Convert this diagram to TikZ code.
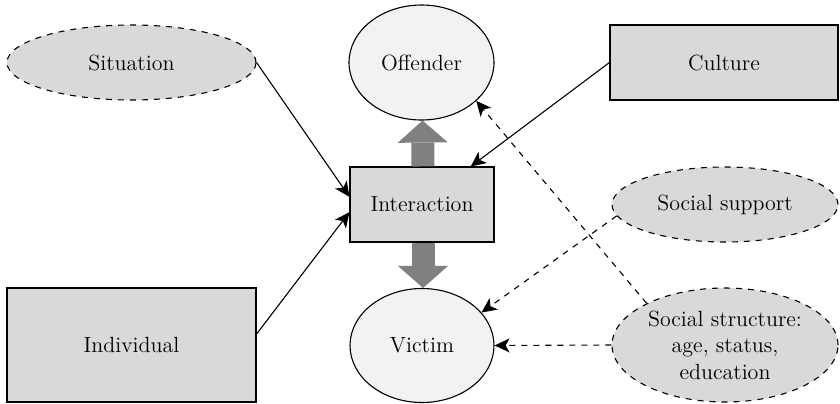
\documentclass[tikz,border=0pt]{standalone}
\usepackage{tikz}
\usetikzlibrary{shapes.geometric, arrows.meta}

\definecolor{boxgray}{HTML}{D9D9D9}
\definecolor{palegray}{HTML}{F2F2F2}
\definecolor{flowgray}{HTML}{808080}

\begin{document}
\begin{tikzpicture}[x=0.5pt, y=-0.5pt, line width=0.55pt,
	every node/.style={font=\fontsize{11}{13.3}\selectfont, inner sep=0pt, align=center},
	factor/.style={draw, fill=boxgray, rectangle},
	cloud/.style={draw, dashed, fill=boxgray, ellipse},
	actor/.style={draw, fill=palegray, ellipse},
	cause/.style={-{Stealth[length=7.5pt, width=7pt, inset=2pt]}},
	weak/.style={cause, dashed},
	bigflow/.style={draw=flowgray, line width=11.5pt, -{Triangle[width=25pt, length=11pt, line width=0pt, fill=flowgray]}}]
	% Frame
	\useasboundingbox (0,0) rectangle (840,403);
	% Actors
	\node[actor, minimum width=72.5pt, minimum height=57.5pt] (offender) at (421.5,62.5) {Offender};
	\node[factor, minimum width=72pt, minimum height=37.5pt] (interaction) at (422,204.5) {Interaction};
	\node[actor, minimum width=72pt, minimum height=57pt] (victim) at (422,345.5) {Victim};
	% Influences
	\node[cloud, minimum width=124.5pt, minimum height=37.5pt] (situation) at (131.5,62.5) {Situation};
	\node[factor, minimum width=124.5pt, minimum height=57pt] (individual) at (131.5,345) {Individual};
	\node[factor, minimum width=114pt, minimum height=37.5pt] (culture) at (724,62.5) {Culture};
	\node[cloud, minimum width=113pt, minimum height=37.5pt] (support) at (725,204.5) {Social support};
	\node[cloud, minimum width=113pt, minimum height=57pt] (structure) at (725,345) {Social structure:\\ age, status,\\ education};

	% Big flows
	\draw[bigflow] ([xshift=0.5pt]interaction.north) -- ([xshift=0.5pt]offender.south);
	\draw[bigflow] ([xshift=0.5pt]interaction.south) -- ([xshift=0.5pt]victim.north);

	% Arrows
	\draw[cause] (situation.east) -- (interaction.174);
	\draw[cause] (individual.5) -- (interaction.186);
	\draw[cause] (culture.west) -- (interaction.38);
	\draw[weak] (support.186) -- (victim.29);
	\draw[weak] (structure.west) -- (victim.east);
	\draw[weak] (structure.152) -- (offender.-35);
\end{tikzpicture}
\end{document}
